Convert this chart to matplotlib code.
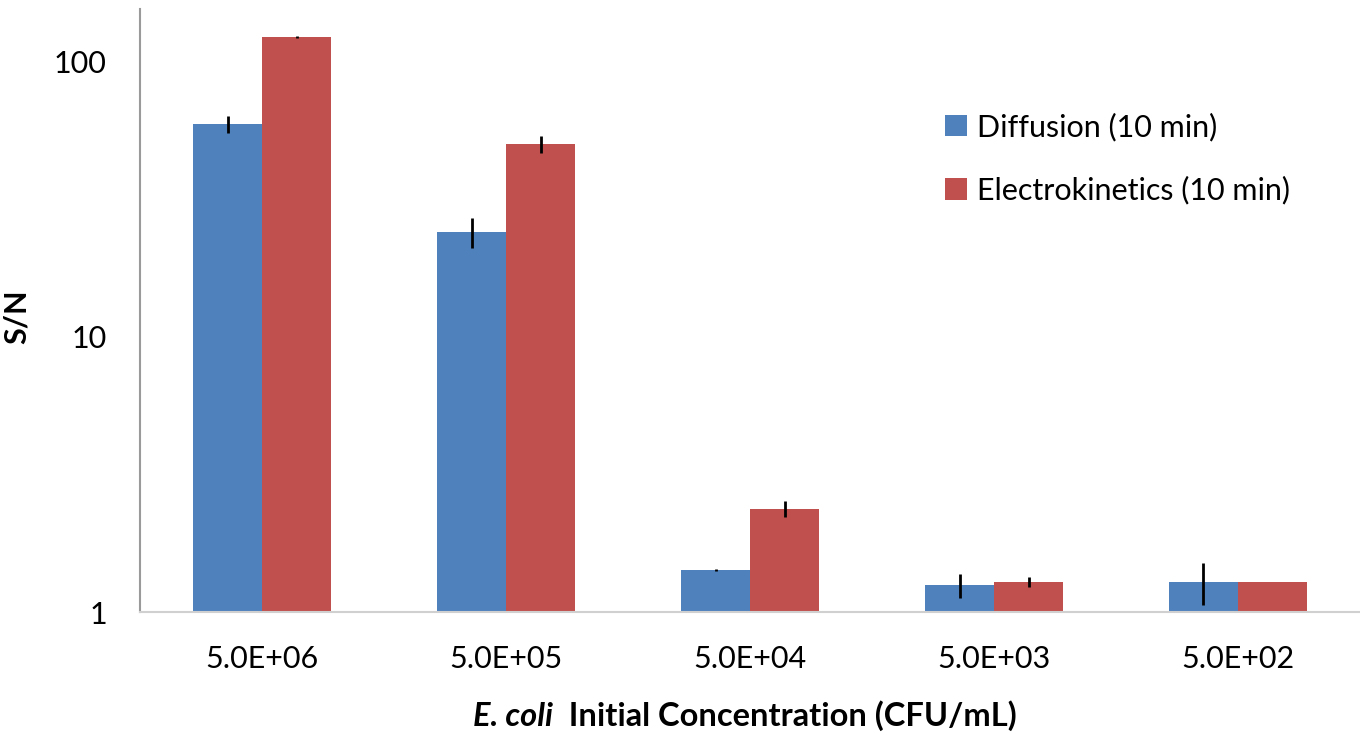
import matplotlib.pyplot as plt
import numpy as np

# values
concentrations = ['5.0E+06', '5.0E+05', '5.0E+04', '5.0E+03', '5.0E+02']
diffusion = [59.0, 23.9, 1.42, 1.25, 1.285]
diffusion_err = [4.0, 3.0, 0.01, 0.13, 0.22]
electro = [122.0, 49.9, 2.37, 1.285, 1.285]
electro_err = [1.0, 3.4, 0.16, 0.05, 0.0]

plt.rcParams['font.family'] = ['Lato', 'DejaVu Sans']
FS = 22

fig = plt.figure(figsize=(13.6, 7.33), dpi=100)
ax = fig.add_axes([0.103, 0.165, 0.897, 0.823])

x = np.arange(len(concentrations))
w = 0.283
ax.bar(x - w / 2, diffusion, w, color='#4F81BD', label='Diffusion (10 min)')
ax.bar(x + w / 2, electro, w, color='#C0504D', label='Electrokinetics (10 min)')
ax.errorbar(x - w / 2, diffusion, yerr=diffusion_err, fmt='none', ecolor='black', elinewidth=2, capsize=0)
ax.errorbar(x + w / 2, electro, yerr=electro_err, fmt='none', ecolor='black', elinewidth=2, capsize=0)

ax.set_yscale('log')
ax.set_ylim(1, 155)
ax.set_xlim(-0.5, 4.5)
ax.set_yticks([1, 10, 100])
ax.set_yticklabels(['1', '10', '100'])
ax.yaxis.set_minor_locator(plt.NullLocator())
ax.set_xticks(x)
ax.set_xticklabels(concentrations)
ax.tick_params(axis='both', length=0, labelsize=FS, colors='black')
ax.tick_params(axis='x', pad=24)
ax.tick_params(axis='y', pad=24)

for s in ['top', 'right']:
    ax.spines[s].set_visible(False)
ax.spines['left'].set_color('#9a9a9a')
ax.spines['left'].set_linewidth(1.5)
ax.spines['bottom'].set_color('#d0d0d0')
ax.spines['bottom'].set_linewidth(1.5)

ax.set_ylabel('S/N', fontsize=FS, fontweight='bold')
ax.yaxis.set_label_coords(-0.09, 0.49)

# x label: italic part plus regular bold part
t = fig.text(553 / 1360, 1 - 716 / 733, 'E. coli', fontsize=23.5, fontweight='bold',
             fontstyle='italic', ha='right', va='center')
ax.annotate('  Initial Concentration (CFU/mL)', xy=(1, 0.5), xycoords=t, va='center', ha='left',
            fontsize=23.5, fontweight='bold', annotation_clip=False)

ax.legend(loc='upper left', bbox_to_anchor=(930 / 1360, 1 - 97 / 733), bbox_transform=fig.transFigure,
          frameon=False, fontsize=FS, handlelength=0.7, handleheight=0.7, handletextpad=0.35,
          labelspacing=1.15, borderpad=0)

fig.savefig('out.png', dpi=100)
